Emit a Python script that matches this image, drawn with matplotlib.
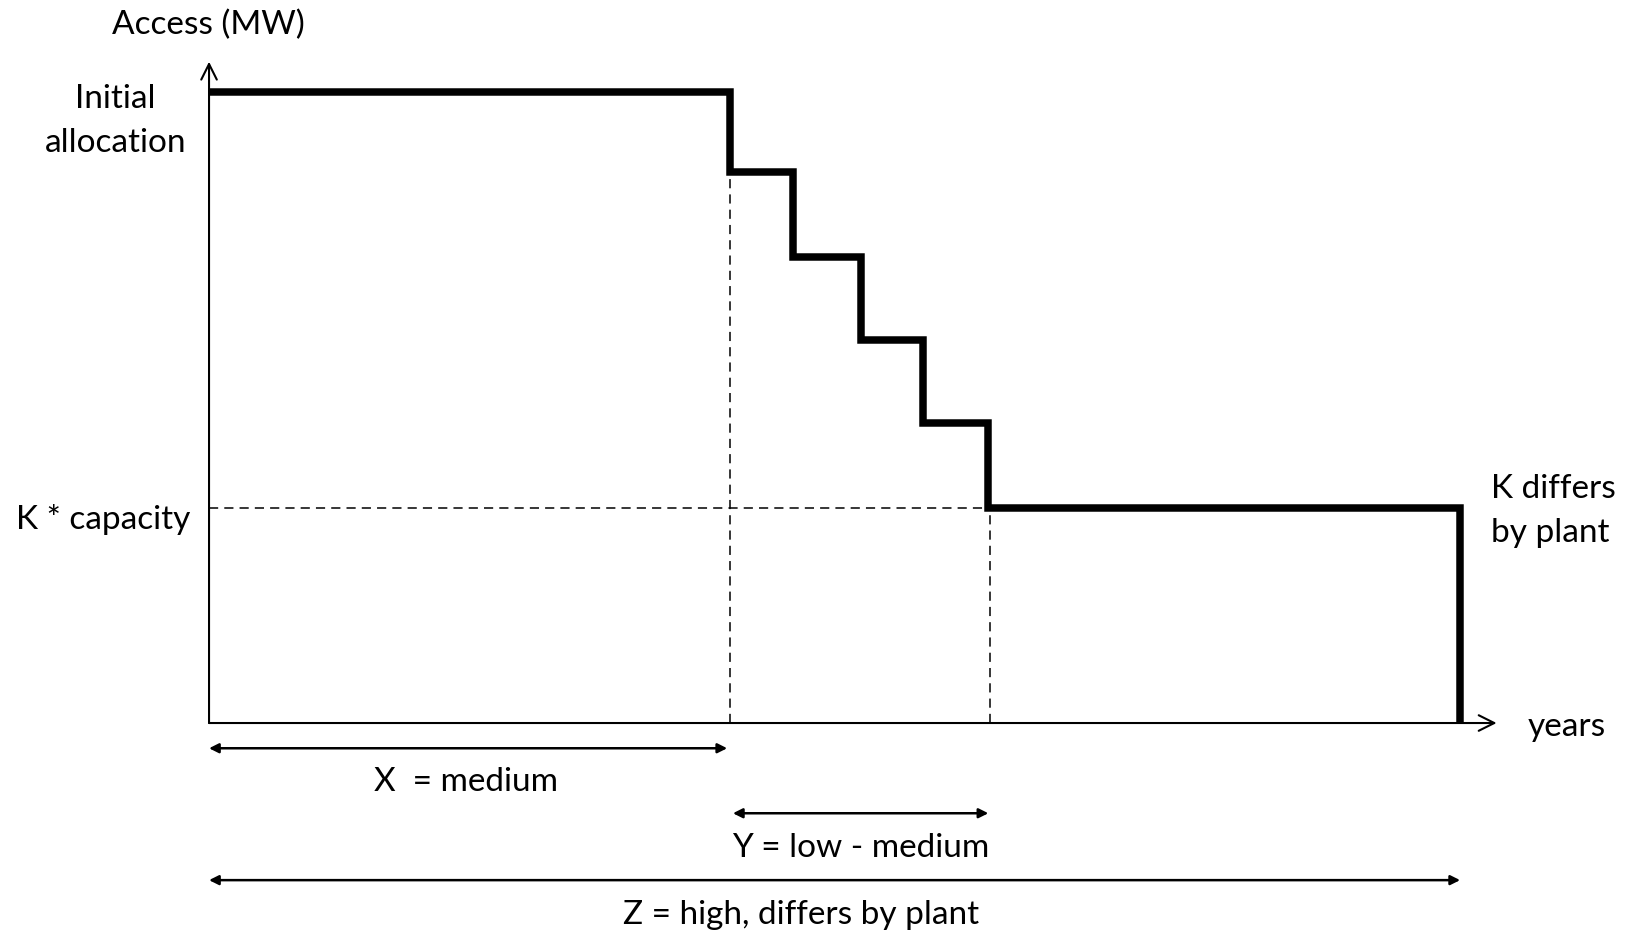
import matplotlib
matplotlib.use("Agg")
from matplotlib import pyplot as plt

# step profile of access over time (years, access in % of initial allocation)
step_years = [0, 10.0, 11.2, 12.5, 13.7, 14.95, 24.0]
step_access = [100, 87.3, 73.9, 60.7, 47.5, 34.1, 0]
k_capacity = 34.1
x_end = 10.0       # end of X period
y_end = 14.95      # end of Y period
z_end = 24.0       # end of Z period

plt.rcParams['font.family'] = ['Lato', 'DejaVu Sans']

fig = plt.figure(figsize=(16.29, 9.31), dpi=100)
ax = fig.add_axes([0, 0, 1, 1])
ax.set_xlim(-4.01, 27.24)
ax.set_ylim(-32.96, 114.58)
ax.axis('off')

# thick step line
xs, ys = [step_years[0]], [step_access[0]]
for i in range(1, len(step_years) - 1):
    xs += [step_years[i], step_years[i]]
    ys += [step_access[i - 1], step_access[i]]
xs += [step_years[-1], step_years[-1]]
ys += [step_access[-2], step_access[-1]]
ax.plot(xs, ys, color='black', lw=5.4, solid_joinstyle='miter', solid_capstyle='butt')

# dashed guides
dash = dict(color='black', lw=1.1, ls=(0, (6, 4)))
ax.plot([0, y_end], [k_capacity, k_capacity], **dash)
ax.plot([x_end, x_end], [0, step_access[1]], **dash)
ax.plot([y_end + 0.03, y_end + 0.03], [0, k_capacity], **dash)

# axes with open arrow heads
ax.annotate('', xy=(0, 104.8), xytext=(0, 0),
            arrowprops=dict(arrowstyle='->', lw=1.5, color='black',
                            mutation_scale=28, shrinkA=0, shrinkB=0))
ax.annotate('', xy=(24.7, 0), xytext=(0, 0),
            arrowprops=dict(arrowstyle='->', lw=1.5, color='black',
                            mutation_scale=28, shrinkA=0, shrinkB=0))

# period arrows
dim = dict(arrowstyle='<|-|>', lw=1.8, color='black', mutation_scale=14,
           shrinkA=0, shrinkB=0)
ax.annotate('', xy=(0, -4.0), xytext=(x_end - 0.06, -4.0), arrowprops=dim)
ax.annotate('', xy=(x_end + 0.05, -14.3), xytext=(y_end, -14.3), arrowprops=dim)
ax.annotate('', xy=(0, -24.9), xytext=(z_end, -24.9), arrowprops=dim)

fs = 24
ax.text(-0.02, 110.6, 'Access (MW)', fontsize=fs, ha='center', va='center')
ax.text(-1.8, 95.4, 'Initial\nallocation', fontsize=fs, ha='center', va='center',
        linespacing=1.55)
ax.text(-0.35, 32.3, 'K * capacity', fontsize=fs, ha='right', va='center')
ax.text(24.6, 33.6, 'K differs\nby plant', fontsize=fs, ha='left', va='center',
        linespacing=1.55)
ax.text(25.3, -0.6, 'years', fontsize=fs, ha='left', va='center')
ax.text(4.93, -9.35, 'X  = medium', fontsize=fs, ha='center', va='center')
ax.text(12.5, -19.8, 'Y = low - medium', fontsize=fs, ha='center', va='center')
ax.text(11.36, -30.4, 'Z = high, differs by plant', fontsize=fs, ha='center', va='center')

fig.savefig('out.png', dpi=100)
